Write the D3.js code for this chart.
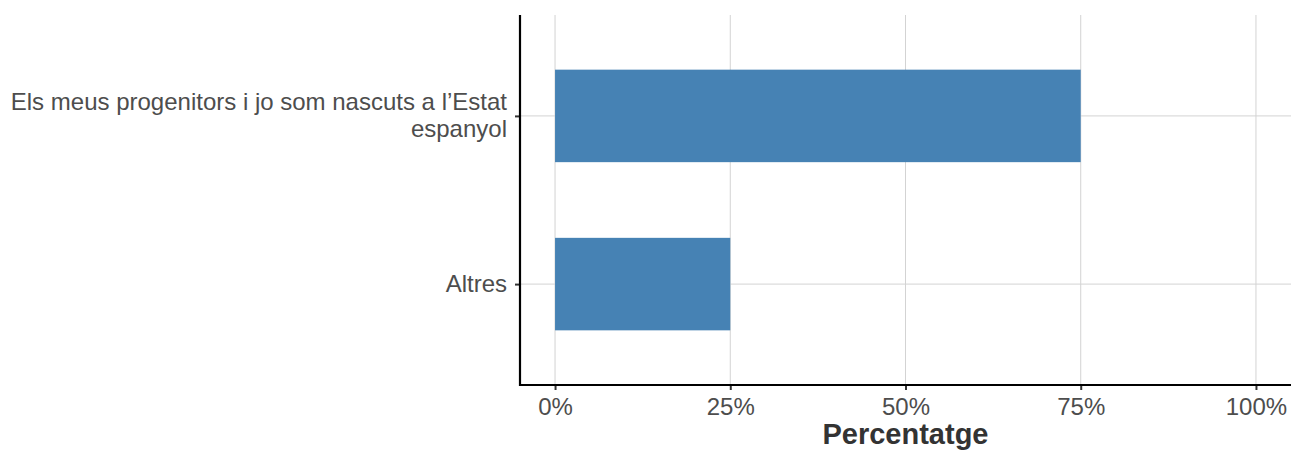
<!DOCTYPE html>
<html><head><meta charset="utf-8">
<script src="https://cdn.jsdelivr.net/npm/d3@7"></script>
<style>body{margin:0;background:#fff}svg{display:block}text{font-family:"Liberation Sans",Arial,sans-serif}</style>
</head><body>
<svg id="c" width="1291" height="452"></svg>
<script>
const categories = ["Els meus progenitors i jo som nascuts a l\u2019Estat espanyol", "Altres"];
const categoryLines = [["Els meus progenitors i jo som nascuts a l\u2019Estat", "espanyol"], ["Altres"]];
const values = [75, 25];
const xTicks = [0, 25, 50, 75, 100];
const xTickLabels = ["0%", "25%", "50%", "75%", "100%"];
const xTitle = "Percentatge";

const svg = d3.select("#c");
const L = 520, R = 1291, T = 15, B = 385;
const FS = 24;
const x = d3.scaleLinear().domain([-5, 105]).range([L, R]);
const y = d3.scalePoint().domain(categories).range([T + (B - T) * 0.6 / 2.2, B - (B - T) * 0.6 / 2.2]);
const bw = (B - T) / 2.2 * 0.55;

// grid
svg.append("g").selectAll("line").data(xTicks).join("line")
  .attr("x1", d => x(d)).attr("x2", d => x(d)).attr("y1", T).attr("y2", B)
  .attr("stroke", "#d3d3d3").attr("stroke-width", 1);
svg.append("g").selectAll("line").data(categories).join("line")
  .attr("x1", L).attr("x2", R).attr("y1", d => y(d)).attr("y2", d => y(d))
  .attr("stroke", "#d3d3d3").attr("stroke-width", 1);

// bars
svg.append("g").selectAll("rect").data(categories).join("rect")
  .attr("x", x(0)).attr("y", d => y(d) - bw / 2)
  .attr("width", (d, i) => x(values[i]) - x(0)).attr("height", bw)
  .attr("fill", "#4682b4");

// axes
const xa = svg.append("g").attr("transform", `translate(0,${B})`)
  .call(d3.axisBottom(x).tickValues(xTicks).tickFormat((d, i) => xTickLabels[i]).tickSize(5).tickPadding(4));
xa.select(".domain").remove();
xa.selectAll(".tick line").attr("stroke", "#333").attr("stroke-width", 2);
xa.selectAll(".tick text").attr("fill", "#4d4d4d").style("font-size", FS + "px").attr("dy", "0").attr("y", 29.5);

const ya = svg.append("g").attr("transform", `translate(${L},0)`)
  .call(d3.axisLeft(y).tickSize(5).tickPadding(8).tickFormat(""));
ya.select(".domain").remove();
ya.selectAll(".tick line").attr("stroke", "#333").attr("stroke-width", 2);
ya.selectAll(".tick").each(function (d, i) {
  const lines = categoryLines[i];
  const t = d3.select(this).append("text").attr("fill", "#4d4d4d").style("font-size", FS + "px")
    .attr("text-anchor", "end").attr("x", -13);
  const lh = 26.5;
  lines.forEach((ln, j) => {
    t.append("tspan").attr("x", -13).attr("y", (j - (lines.length - 1) / 2) * lh).attr("dy", "0.3em").text(ln);
  });
});

// axis lines
svg.append("line").attr("x1", L).attr("x2", L).attr("y1", T).attr("y2", B + 1).attr("stroke", "#000").attr("stroke-width", 2.2);
svg.append("line").attr("x1", L - 1).attr("x2", R).attr("y1", B).attr("y2", B).attr("stroke", "#000").attr("stroke-width", 2.2);

svg.append("text").attr("x", (L + R) / 2).attr("y", 444).attr("text-anchor", "middle")
  .attr("fill", "#333").style("font-size", "29px").style("font-weight", "bold").text(xTitle);
</script>
</body></html>
